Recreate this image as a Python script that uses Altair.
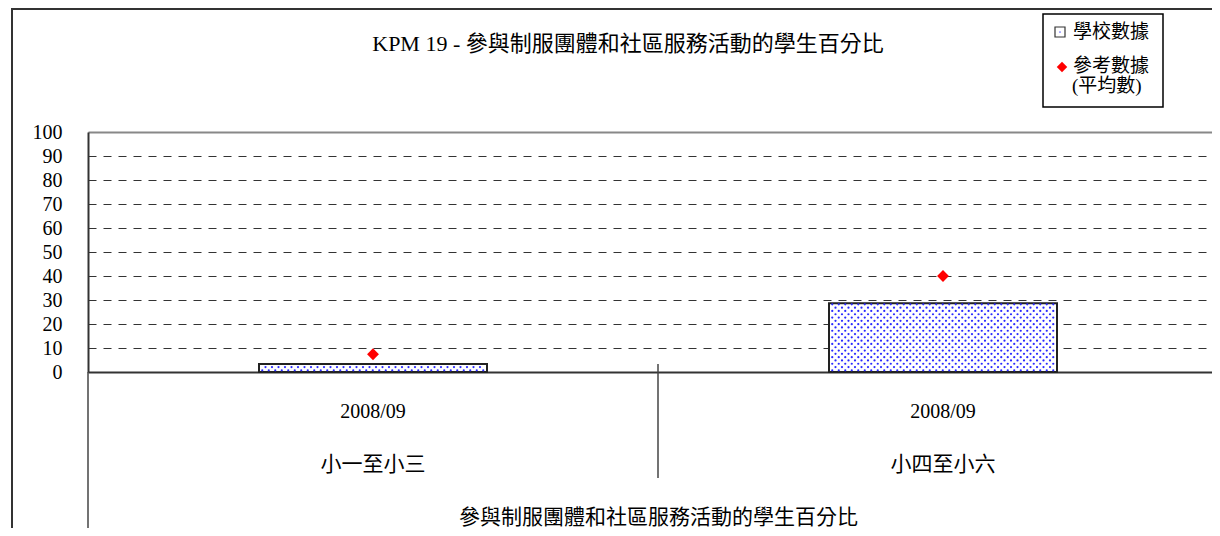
import altair as alt
import pandas as pd

# ---- data ----
categories = ["小一至小三", "小四至小六"]
years = ["2008/09", "2008/09"]
school_values = [3.3, 28.6]        # 學校數據 (bars)
reference_values = [7.4, 40.0]     # 參考數據(平均數) (red diamonds)
y_ticks = [0, 10, 20, 30, 40, 50, 60, 70, 80, 90, 100]

title_text = "KPM 19 - 參與制服團體和社區服務活動的學生百分比"
axis_title = "參與制服團體和社區服務活動的學生百分比"
legend_school = "學校數據"
legend_ref_1 = "參考數據"
legend_ref_2 = "(平均數)"

FONT = "Liberation Serif, Noto Sans CJK TC"
BAR_HALF = 0.2

centers = [i + 0.5 for i in range(len(categories))]
df = pd.DataFrame({
    "cat": categories,
    "year": years,
    "center": centers,
    "x0": [c - BAR_HALF for c in centers],
    "x1": [c + BAR_HALF for c in centers],
    "school": school_values,
    "ref": reference_values,
})


def dot_texture(cs, vals, half, dx, dy):
    rows = []
    for c, v in zip(cs, vals):
        j = 0
        y = dy / 2
        while y < v - dy / 4:
            off = dx / 2 if j % 2 else 0
            x = c - half + dx / 2 + off
            while x < c + half - dx / 3:
                rows.append({"x": x, "y": y})
                x += dx
            y += dy
            j += 1
    return pd.DataFrame(rows)


dots = dot_texture(centers, school_values, BAR_HALF, 6.5 / 570, 3.3 / 2.4)

W, H = 1124, 240
x_scale = alt.Scale(domain=[0, W / 570], nice=False, zero=False)
y_scale = alt.Scale(domain=[0, 100], nice=False)

x_axis = alt.Axis(labels=False, ticks=False, grid=False, domain=True,
                  domainColor="#333333", domainWidth=2,
                  title=axis_title, titleFont=FONT, titleFontSize=21,
                  titleFontWeight="normal", titleColor="#000000",
                  titleX=570, titleY=145, titleBaseline="middle")
y_axis = alt.Axis(values=y_ticks, ticks=False, labelPadding=26, labelOverlap=False,
                  labelFont=FONT, labelFontSize=20, labelColor="#000000",
                  labelBaseline="middle",
                  domainColor="#333333", domainWidth=2, title=None,
                  grid=True,
                  gridColor=alt.condition("datum.value == 100", alt.value("#888888"), alt.value("#333333")),
                  gridDash=alt.condition("datum.value == 100", alt.value([]), alt.value([8, 7])),
                  gridWidth=alt.condition("datum.value == 100", alt.value(2), alt.value(1)))

base = alt.Chart(df)

bars = base.mark_rect(fill="white", stroke="#222222", strokeWidth=2).encode(
    x=alt.X("x0:Q", scale=x_scale, axis=x_axis),
    x2="x1:Q",
    y=alt.Y("school:Q", scale=y_scale, axis=y_axis),
    y2=alt.datum(0),
)

texture = alt.Chart(dots).mark_circle(size=5, color="#2a2aff", opacity=1).encode(
    x=alt.X("x:Q", scale=x_scale, axis=x_axis),
    y=alt.Y("y:Q", scale=y_scale, axis=y_axis),
)

ref_pts = base.mark_point(shape="diamond", filled=True, color="#ff0000",
                          size=140, opacity=1).encode(
    x=alt.X("center:Q", scale=x_scale, axis=x_axis),
    y=alt.Y("ref:Q", scale=y_scale, axis=y_axis),
)

year_lbl = base.mark_text(font=FONT, fontSize=20, color="#000000",
                          baseline="middle").encode(
    x=alt.X("center:Q", scale=x_scale, axis=x_axis),
    y=alt.value(280), text="year:N"
)
cat_lbl = base.mark_text(font=FONT, fontSize=21, color="#000000",
                         baseline="middle").encode(
    x=alt.X("center:Q", scale=x_scale, axis=x_axis),
    y=alt.value(333), text="cat:N"
)

bounds = pd.DataFrame({"b": list(range(len(categories) + 1))})
outer_rule = alt.Chart(bounds).transform_filter("datum.b == 0").mark_rule(
    color="#444444", strokeWidth=1.5).encode(
    x=alt.X("b:Q", scale=x_scale, axis=x_axis), y=alt.value(H), y2=alt.value(420)
)
inner_rule = alt.Chart(bounds).transform_filter("datum.b > 0").mark_rule(
    color="#444444", strokeWidth=1.5).encode(
    x=alt.X("b:Q", scale=x_scale, axis=x_axis), y=alt.value(232), y2=alt.value(346)
)

one = alt.Data(values=[{"k": 0}])
frame = alt.Chart(one).mark_rect(fill=None, stroke="#333333", strokeWidth=2).encode(
    x=alt.value(-76), y=alt.value(-123), x2=alt.value(2000), y2=alt.value(2000)
)

title_mark = alt.Chart(one).mark_text(font=FONT, fontSize=22, color="#000000",
                                      align="center", baseline="middle").encode(
    x=alt.value(540), y=alt.value(-88), text=alt.value(title_text)
)

legend_box = alt.Chart(one).mark_rect(fill="white", stroke="#000000", strokeWidth=1.5).encode(
    x=alt.value(955), y=alt.value(-118), x2=alt.value(1075), y2=alt.value(-25)
)
legend_sq = alt.Chart(one).mark_square(fill="white", stroke="#333333", strokeWidth=1.2,
                                       size=100, opacity=1).encode(
    x=alt.value(972), y=alt.value(-100)
)
legend_sq_dot = alt.Chart(one).mark_circle(size=3, color="#2a2aff").encode(
    x=alt.value(972), y=alt.value(-100)
)
legend_dia = alt.Chart(one).mark_point(shape="diamond", filled=True, color="#ff0000",
                                       size=110, opacity=1).encode(
    x=alt.value(974), y=alt.value(-65)
)
legend_txt = alt.Chart(alt.Data(values=[
    {"t": legend_school, "px": 985, "py": -100},
    {"t": legend_ref_1, "px": 985, "py": -66},
    {"t": legend_ref_2, "px": 984, "py": -46},
])).mark_text(font=FONT, fontSize=19, align="left", baseline="middle",
              color="#000000").encode(
    x=alt.X("px:Q", scale=None), y=alt.Y("py:Q", scale=None), text="t:N"
)

chart = alt.layer(
    frame, bars, texture, ref_pts, outer_rule, inner_rule, year_lbl, cat_lbl,
    title_mark, legend_box, legend_sq, legend_sq_dot, legend_dia, legend_txt
).properties(
    width=W, height=H,
    autosize=alt.AutoSizeParams(type="none"),
    padding={"left": 80, "top": 124, "right": 0, "bottom": 156},
).configure_view(stroke=None).configure(background="white")

chart.save("out.html", embed_options={"renderer": "svg", "actions": False})
